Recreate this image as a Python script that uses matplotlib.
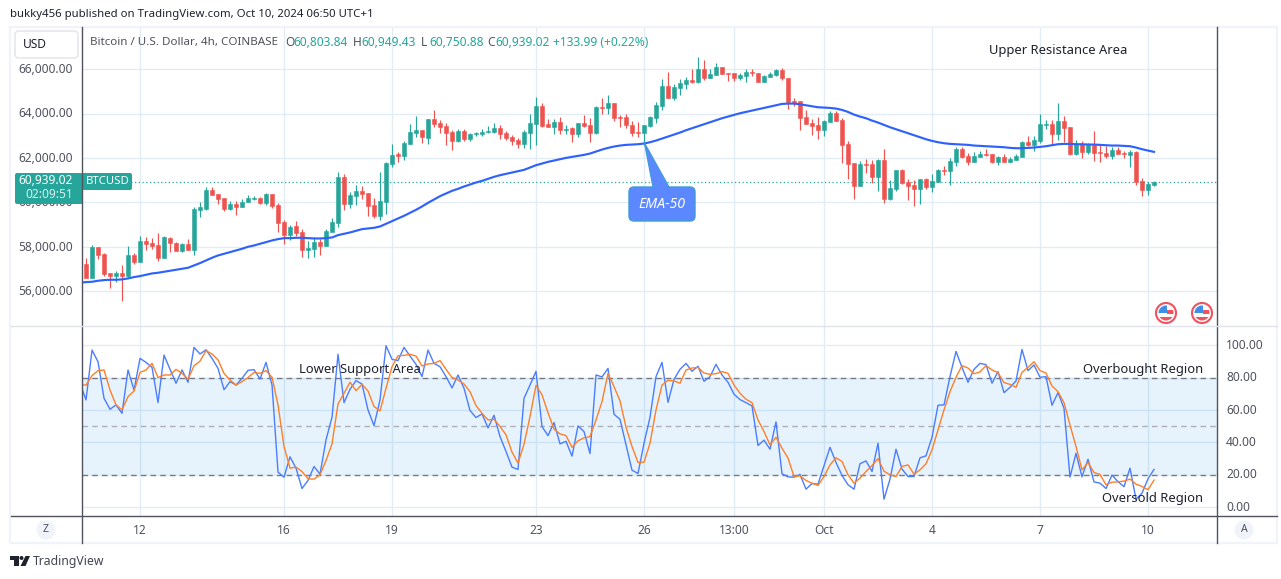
#!/usr/bin/env python3

# BTCUSD 4h chart with EMA-50 and a stochastic RSI pane

import numpy as np
import matplotlib
matplotlib.use("Agg")
import matplotlib.pyplot as plt
from matplotlib.patches import Circle, FancyBboxPatch, Polygon, Rectangle
from matplotlib.transforms import ScaledTranslation

plt.rcParams['font.family'] = ['Noto Sans', 'DejaVu Sans']

opens = [
    57240, 56580, 58005, 57690, 56820, 56700, 56820, 56700, 57630, 57330,
    58275, 58185, 58095, 57510, 58410, 58185, 57825, 58140, 57870, 59670,
    59715, 60570, 60390, 60210, 59715, 59940, 59805, 60015, 60165, 60210,
    59985, 60390, 59895, 59130, 58545, 58950, 58680, 57870, 57915, 58230,
    58050, 58680, 59085, 61155, 59940, 60300, 60525, 60435, 59895, 59400,
    60030, 61740, 62175, 62100, 62640, 63135, 63270, 62910, 63765, 63585,
    63450, 63180, 62775, 63225, 62865, 63075, 63090, 63180, 63180, 63360,
    63135, 62955, 62820, 62640, 63135, 63540, 64350, 63540, 63405, 63630,
    63270, 63360, 63090, 63585, 63495, 63135, 64305, 64260, 64485, 63855,
    63855, 63495, 63180, 63135, 63450, 63810, 64350, 65250, 64710, 65160,
    65340, 65520, 65430, 66015, 65610, 65745, 66105, 65835, 65835, 65610,
    65700, 65865, 65835, 65430, 65655, 65745, 65970, 65610, 64575, 64575,
    63855, 63585, 63495, 63270, 63630, 64035, 63720, 62640, 61785, 60750,
    61740, 61740, 61155, 61920, 60165, 60615, 61470, 60930, 60795, 60615,
    61065, 60705, 60930, 61470, 61425, 61830, 62415, 62100, 61830, 62055,
    62190, 62190, 61830, 62055, 61830, 61920, 62055, 62730, 62595, 62775,
    63495, 63540, 63090, 63675, 63405, 62190, 62640, 62280, 62595, 62280,
    62235, 62100, 62370, 62235, 62145, 62280, 60975, 60570, 60803.84]
highs = [
    57510, 58095, 58005, 57735, 56820, 56910, 57195, 58050, 57735, 58500,
    58455, 58410, 58635, 58500, 58455, 58230, 58185, 58365, 59790, 60030,
    60705, 60705, 60390, 60210, 60075, 60075, 60165, 60345, 60300, 60255,
    60435, 60390, 59985, 59220, 58995, 59175, 58815, 58275, 58455, 58365,
    58815, 59310, 61380, 61290, 60480, 60795, 60750, 60435, 60210, 61380,
    61830, 62640, 62280, 62775, 63540, 63900, 63270, 63765, 64170, 63720,
    63585, 63270, 63315, 63315, 63135, 63180, 63315, 63450, 63585, 63495,
    63225, 63045, 62910, 63270, 63990, 64755, 64485, 63765, 63765, 63855,
    63495, 63405, 63585, 63945, 63810, 64350, 64710, 64845, 64485, 63945,
    63990, 63675, 63630, 63495, 63900, 64530, 65565, 65880, 65340, 65565,
    65655, 66015, 66555, 66420, 66015, 66285, 66105, 65835, 65835, 65835,
    66015, 66015, 65835, 65745, 65880, 66015, 66060, 65610, 64710, 64575,
    64170, 63765, 63855, 63720, 64125, 64125, 63810, 62775, 61785, 61875,
    61965, 61920, 61965, 62415, 61020, 61470, 61515, 61065, 61020, 61065,
    61110, 61290, 61515, 61650, 62010, 62505, 62505, 62235, 62280, 62325,
    62415, 62190, 62100, 62190, 62055, 62190, 62775, 63000, 63000, 63990,
    63720, 63720, 64485, 63900, 63405, 62820, 62775, 62685, 63225, 62595,
    62550, 62505, 62505, 62325, 62370, 62325, 61110, 60930, 60949.43]
lows = [
    56580, 56580, 57465, 56685, 56130, 56400, 55575, 56640, 57240, 57330,
    57870, 57915, 57345, 57510, 57780, 57825, 57780, 57870, 57645, 59355,
    59670, 60345, 59940, 59625, 59670, 59445, 59805, 60015, 60120, 59940,
    59895, 59760, 58680, 58140, 58320, 58500, 57555, 57510, 57555, 57645,
    58050, 58680, 58905, 59670, 59760, 59895, 60165, 59400, 59310, 59220,
    59490, 61605, 61830, 61920, 62640, 62955, 62685, 62640, 63405, 63135,
    62595, 62370, 62730, 62775, 62775, 63000, 63000, 63135, 63135, 62865,
    62820, 62595, 62460, 62460, 62415, 62595, 63405, 63405, 63090, 63090,
    63090, 62730, 62955, 63405, 62730, 63090, 63990, 63990, 63675, 63405,
    63360, 63000, 62955, 62595, 63405, 63585, 64170, 64710, 64620, 64845,
    65115, 65385, 65385, 65520, 65610, 65745, 65790, 65475, 65475, 65520,
    65430, 65700, 65430, 65430, 65655, 65700, 65520, 64215, 64350, 63270,
    63540, 63045, 62865, 63000, 63630, 63675, 61785, 61065, 60165, 60750,
    61335, 60885, 60525, 59985, 60120, 60525, 60840, 60120, 59850, 59940,
    60615, 60480, 60930, 61245, 60795, 61650, 62010, 61695, 61830, 62055,
    62100, 61785, 61695, 61830, 61830, 61920, 62055, 62550, 62325, 62685,
    63315, 62640, 62820, 62730, 62145, 62145, 62010, 62190, 61875, 61830,
    62010, 61965, 62190, 62010, 61605, 60795, 60300, 60345, 60750.88]
closes = [
    56580, 58005, 57645, 56775, 56700, 56820, 56700, 57645, 57330, 58275,
    58140, 58050, 57480, 58455, 58155, 57825, 58140, 57870, 59715, 59805,
    60570, 60345, 60165, 59715, 59940, 59805, 60030, 60210, 60225, 59985,
    60390, 59850, 59085, 58545, 58905, 58635, 57870, 57960, 58230, 58050,
    58725, 59130, 61155, 59940, 60345, 60525, 60390, 59850, 59400, 60075,
    61785, 62145, 62115, 62685, 63180, 63270, 62955, 63765, 63540, 63405,
    63135, 62775, 63225, 62865, 63090, 63135, 63180, 63240, 63360, 63090,
    62910, 62775, 62640, 63180, 63585, 64350, 63450, 63405, 63630, 63270,
    63330, 63090, 63585, 63450, 63135, 64305, 64260, 64485, 63810, 63810,
    63495, 63135, 63135, 63495, 63855, 64395, 65250, 64710, 65205, 65385,
    65520, 65430, 66015, 65610, 65790, 66105, 65790, 65790, 65610, 65745,
    65880, 65835, 65430, 65700, 65790, 65970, 65610, 64530, 64485, 63810,
    63540, 63450, 63270, 63675, 64035, 63675, 62595, 61740, 60750, 61740,
    61695, 61155, 61920, 60165, 60660, 61470, 60885, 60750, 60615, 61065,
    60705, 60975, 61470, 61425, 61875, 62415, 62055, 61830, 62100, 62190,
    62145, 61830, 62055, 61830, 61965, 62100, 62730, 62595, 62820, 63540,
    63540, 63090, 63675, 63360, 62190, 62640, 62280, 62595, 62235, 62235,
    62100, 62370, 62190, 62190, 62280, 60930, 60570, 60840, 60939.02]

# the lines below start one bar before the first candle, at the pane's left edge
ema50 = [
    56385, 56415, 56430, 56475, 56505, 56520, 56520, 56535, 56580, 56640,
    56685, 56745, 56805, 56835, 56880, 56925, 56970, 57015, 57060, 57165,
    57270, 57390, 57510, 57615, 57690, 57765, 57840, 57915, 58005, 58065,
    58140, 58215, 58290, 58350, 58395, 58395, 58410, 58410, 58395, 58380,
    58380, 58395, 58425, 58530, 58590, 58650, 58725, 58800, 58830, 58860,
    58920, 59040, 59160, 59280, 59400, 59535, 59670, 59820, 59985, 60135,
    60285, 60405, 60525, 60615, 60720, 60810, 60900, 60975, 61065, 61155,
    61230, 61290, 61350, 61410, 61470, 61575, 61680, 61755, 61830, 61890,
    61950, 62010, 62055, 62100, 62145, 62205, 62295, 62385, 62460, 62520,
    62565, 62595, 62610, 62625, 62655, 62715, 62790, 62880, 62970, 63060,
    63150, 63255, 63345, 63435, 63525, 63615, 63705, 63795, 63870, 63945,
    64020, 64080, 64140, 64200, 64260, 64320, 64380, 64440, 64455, 64455,
    64425, 64380, 64335, 64290, 64275, 64260, 64230, 64170, 64080, 63960,
    63870, 63795, 63690, 63600, 63495, 63390, 63300, 63210, 63120, 63030,
    62940, 62850, 62775, 62715, 62670, 62640, 62625, 62610, 62595, 62565,
    62550, 62535, 62520, 62505, 62490, 62460, 62445, 62445, 62460, 62475,
    62505, 62535, 62580, 62625, 62640, 62640, 62625, 62625, 62610, 62610,
    62595, 62580, 62565, 62565, 62550, 62535, 62475, 62400, 62340, 62280]
stoch_k = [
    76.6, 66.3, 97.1, 89.9, 67.3, 60.5, 63.2, 58.0, 84.8, 72.4,
    92.0, 89.5, 86.4, 64.6, 94.0, 85.2, 76.6, 84.8, 77.2, 98.8,
    94.7, 97.3, 92.0, 85.8, 72.6, 77.6, 75.5, 79.6, 84.6, 85.0,
    79.2, 89.5, 75.5, 21.6, 18.5, 31.1, 24.1, 11.5, 16.5, 25.1,
    20.4, 41.6, 55.6, 94.5, 64.6, 72.9, 78.2, 76.1, 60.1, 50.4,
    66.3, 99.8, 91.4, 90.6, 98.8, 93.4, 88.3, 80.7, 97.1, 88.9,
    86.8, 80.7, 73.7, 81.7, 73.5, 59.7, 55.4, 57.6, 49.0, 56.8,
    43.6, 34.4, 24.7, 23.3, 67.3, 75.5, 84.0, 49.8, 44.2, 52.3,
    39.1, 40.7, 31.5, 50.2, 46.7, 33.1, 81.7, 80.5, 85.8, 57.4,
    54.3, 38.5, 22.8, 20.8, 39.5, 55.6, 80.7, 89.5, 64.8, 79.0,
    85.2, 88.9, 84.0, 87.1, 77.8, 80.7, 88.3, 81.7, 77.2, 69.8,
    66.5, 64.6, 62.6, 38.1, 41.4, 35.8, 52.7, 20.6, 18.7, 18.5,
    20.2, 11.1, 14.6, 14.2, 25.7, 37.0, 27.6, 19.6, 13.8, 11.1,
    26.8, 28.6, 22.0, 39.5, 4.9, 17.3, 35.8, 23.5, 18.9, 18.9,
    30.5, 31.7, 43.2, 63.0, 63.2, 80.7, 96.3, 86.4, 77.2, 85.2,
    88.9, 88.1, 76.6, 83.8, 70.8, 74.1, 78.0, 97.5, 84.4, 87.9,
    80.3, 80.7, 63.0, 70.8, 61.1, 18.5, 33.3, 18.7, 29.6, 15.6,
    14.8, 11.5, 19.8, 15.8, 12.6, 24.1, 4.9, 8.6, 17.5, 23.3]
stoch_d = [
    75.5, 75.5, 81.3, 84.4, 84.8, 72.4, 63.2, 60.1, 68.3, 71.8,
    83.3, 84.8, 88.9, 80.1, 81.7, 81.7, 85.2, 82.7, 79.2, 87.3,
    90.3, 96.7, 94.7, 91.0, 82.7, 78.6, 75.5, 77.6, 80.1, 83.3,
    82.7, 84.4, 80.3, 63.2, 37.5, 24.1, 24.7, 22.0, 17.5, 17.3,
    20.0, 28.8, 39.1, 63.8, 70.4, 77.2, 72.0, 75.9, 71.8, 62.2,
    59.5, 73.5, 86.8, 93.6, 93.8, 94.5, 93.4, 87.3, 88.5, 88.9,
    90.6, 85.2, 80.1, 78.6, 76.1, 71.4, 62.8, 58.0, 53.9, 54.3,
    49.8, 44.7, 34.0, 27.2, 38.9, 56.0, 75.3, 69.4, 58.4, 48.2,
    45.3, 44.2, 37.0, 41.0, 42.8, 43.6, 53.9, 65.2, 82.7, 74.5,
    65.7, 49.4, 37.5, 27.6, 27.8, 39.5, 60.1, 75.5, 78.4, 78.0,
    76.6, 84.8, 86.0, 86.4, 82.9, 82.1, 82.5, 83.8, 82.7, 75.5,
    70.4, 66.7, 64.6, 53.9, 46.7, 38.5, 43.2, 36.4, 30.3, 18.9,
    19.3, 16.5, 14.8, 13.4, 18.9, 26.1, 30.5, 28.2, 20.0, 14.8,
    17.9, 22.0, 25.7, 30.0, 22.2, 20.0, 18.9, 25.1, 26.1, 20.4,
    23.0, 26.8, 35.4, 47.7, 60.1, 71.4, 80.3, 87.5, 86.0, 82.5,
    83.6, 87.5, 84.8, 83.1, 77.0, 75.9, 74.1, 83.3, 86.4, 89.9,
    84.4, 82.9, 74.9, 71.4, 64.6, 50.8, 37.5, 23.0, 27.6, 21.4,
    20.2, 13.8, 15.4, 15.6, 16.1, 17.3, 14.2, 12.8, 10.7, 16.7]

date_ticks = [9, 33, 51, 75, 93, 108, 123, 141, 159, 177]
date_labels = ['12', '16', '19', '23', '26', '13:00', 'Oct', '4', '7', '10']
price_ticks = [56000, 58000, 60000, 62000, 64000, 66000]
rsi_ticks = [0, 20, 40, 60, 80, 100]

UP = '#26a69a'
DOWN = '#ef5350'
GRID = '#e1ecf4'
AXIS = '#50535e'
LABEL = '#50535e'
INK = '#1e222d'

W, H = 1281, 579
fig = plt.figure(figsize=(W / 100, H / 100), dpi=100, facecolor='white')


def pane(left, top, right, bottom):
    return fig.add_axes([left / W, 1 - bottom / H, (right - left) / W, (bottom - top) / H])


ax = pane(82, 27, 1217, 326)
ax_rsi = pane(82, 326, 1217, 516)

bars = np.arange(len(closes))
line_x = np.arange(-1, len(closes))
for a in (ax, ax_rsi):
    a.set_xlim(-0.67, 188.5)
    a.set_xticks(date_ticks)
    a.grid(True, color=GRID, linewidth=1.0)
    a.set_axisbelow(True)
    a.tick_params(length=0, colors=LABEL, labelsize=8.6)
    for side in a.spines:
        a.spines[side].set_visible(False)

# painel de preco
ax.set_ylim(54437, 67905)
ax.set_yticks(price_ticks)
ax.set_yticklabels([f'{p:,.2f}' for p in price_ticks])
ax.tick_params(axis='y', pad=6.5)
ax.tick_params(axis='x', labelbottom=False)

colors = [UP if c >= o else DOWN for o, c in zip(opens, closes)]
ax.vlines(bars, lows, highs, colors=colors, linewidth=0.85, zorder=3)
ax.bar(bars, np.abs(np.array(closes) - np.array(opens)), width=0.8,
       bottom=np.minimum(opens, closes), color=colors, linewidth=0.4,
       edgecolor=colors, zorder=3)
ax.axhline(closes[-1], color=UP, linewidth=0.9, linestyle=(0, (1, 2)), zorder=2)
ax.plot(line_x, ema50, color='#2e62ff', linewidth=1.55, zorder=4)

# painel do oscilador
ax_rsi.set_ylim(-5.5, 112)
ax_rsi.yaxis.tick_right()
ax_rsi.set_yticks(rsi_ticks)
ax_rsi.set_yticklabels([f'{v:.2f}' for v in rsi_ticks])
ax_rsi.tick_params(axis='y', pad=6.5)
ax_rsi.tick_params(axis='x', pad=6)
ax_rsi.set_xticklabels(date_labels)
ax_rsi.axhspan(20, 80, color='#2196f3', alpha=0.11, linewidth=0, zorder=1)
ax_rsi.axhline(80, color='#787b86', linewidth=1.0, linestyle=(0, (4, 3)), zorder=1.5)
ax_rsi.axhline(50, color='#aeb0b8', linewidth=1.0, linestyle=(0, (4, 3)), zorder=1.5)
ax_rsi.axhline(20, color='#787b86', linewidth=1.0, linestyle=(0, (4, 3)), zorder=1.5)
ax_rsi.plot(line_x, stoch_k, color='#4a7dff', linewidth=1.0, zorder=3)
ax_rsi.plot(line_x, stoch_d, color='#ff7f27', linewidth=1.0, zorder=4)

# rotulos de preco um pouco acima da linha de grade
nudge = ScaledTranslation(0, 1.3 / 100, fig.dpi_scale_trans)
for a in (ax, ax_rsi):
    for label in a.get_yticklabels():
        label.set_transform(label.get_transform() + nudge)

# camada em pixels para moldura, rotulos e desenhos
top = fig.add_axes([0, 0, 1, 1], zorder=5)
top.set_xlim(0, W)
top.set_ylim(H, 0)
top.axis('off')
top.patch.set_alpha(0)

top.add_patch(Rectangle((10, 27), 1267, 516, fill=False, edgecolor='#f0f3fa', linewidth=1.6))
top.plot([82, 82], [27, 543], color=AXIS, linewidth=1.0)
top.plot([1217, 1217], [27, 543], color=AXIS, linewidth=1.0)
top.plot([11, 1277], [516, 516], color=AXIS, linewidth=1.0)
top.plot([11, 1277], [326, 326], color='#e0e3eb', linewidth=1.0)

top.text(10, 15, 'bukky456 published on TradingView.com, Oct 10, 2024 06:50 UTC+1',
         fontsize=8.2, color=INK, va='center')

top.add_patch(FancyBboxPatch((17, 33), 59, 23, boxstyle='round,pad=2,rounding_size=4',
                             facecolor='white', edgecolor='#e0e3eb', linewidth=1.0))
top.text(23, 44.5, 'USD', fontsize=8.6, color=INK, va='center')

top.text(90, 42, 'Bitcoin / U.S. Dollar, 4h, COINBASE', fontsize=8.35, color=LABEL, va='center')
legend_parts = [(285, 'O', LABEL), (293, '60,803.84', UP), (353, 'H', LABEL), (361, '60,949.43', UP),
                (421, 'L', LABEL), (429, '60,750.88', UP), (487, 'C', LABEL), (495, '60,939.02', UP),
                (553, '+133.99 (+0.22%)', UP)]
for x, s, c in legend_parts:
    top.text(x, 42, s, fontsize=8.6, color=c, va='center')

# etiqueta do ultimo preco
top.add_patch(FancyBboxPatch((17, 175), 64, 27, boxstyle='round,pad=2,rounding_size=2',
                             facecolor=UP, edgecolor='none'))
top.add_patch(FancyBboxPatch((84, 175), 46, 13, boxstyle='round,pad=2,rounding_size=2',
                             facecolor=UP, edgecolor='none'))
top.text(73, 180.5, '60,939.02', fontsize=8.6, color='white', ha='right', va='center', fontweight='medium')
top.text(73, 194.5, '02:09:51', fontsize=8.6, color='#d5f0ec', ha='right', va='center')
top.text(86, 181.5, 'BTCUSD', fontsize=8.2, color='white', va='center')

# balao EMA-50
balloon = '#5b88ff'
top.add_patch(FancyBboxPatch((633, 191), 58, 26, boxstyle='round,pad=4,rounding_size=5',
                             facecolor=balloon, edgecolor='#3f9bd6', linewidth=1.0))
top.add_patch(Polygon([(644.5, 143), (653, 187.5), (669, 187.5)], closed=True, facecolor=balloon,
                      edgecolor='none'))
top.plot([653, 644.5, 669], [187, 143, 187], color='#3f9bd6', linewidth=0.9)
top.text(662, 204, 'EMA-50', fontsize=10.2, color='white', style='italic', ha='center', va='center')

notes = [(1058, 50.5, 'Upper Resistance Area'), (360, 369, 'Lower Support Area'),
         (1143, 369, 'Overbought Region'), (1152, 498.5, 'Oversold Region')]
for x, y, s in notes:
    top.text(x, y, s, fontsize=9.35, color=INK, ha='center', va='center')

# bandeiras dos eventos
for cx in (1166, 1202):
    top.add_patch(Circle((cx, 313), 10, facecolor='white', edgecolor='#f0525f', linewidth=1.5))
    inner = Circle((cx, 313), 7.5, transform=top.transData)
    shapes = [Rectangle((cx - 8, 305), 9, 8, facecolor='#3f8ee8', edgecolor='none'),
              Rectangle((cx + 1, 310), 7, 3.5, facecolor='#f0525f', edgecolor='none'),
              Rectangle((cx - 8, 316.5), 16, 4, facecolor='#f0525f', edgecolor='none')]
    for shape in shapes:
        top.add_patch(shape)
        shape.set_clip_path(inner)

# botoes Z e A
for cx, s in ((46, 'Z'), (1244, 'A')):
    top.add_patch(Circle((cx, 530), 9.5, facecolor='#f0f3fa', edgecolor='none'))
    top.text(cx, 530, s, fontsize=7.6, color=LABEL, ha='center', va='center')

# logo no rodape
top.add_patch(Polygon([(10, 556), (18.5, 556), (18.5, 566), (14, 566), (14, 560), (10, 560)], facecolor=INK))
top.add_patch(Circle((21.5, 558), 2, facecolor=INK, edgecolor='none'))
top.add_patch(Polygon([(25.5, 556), (30, 556), (25.5, 566), (20.5, 566)], facecolor=INK))
top.text(33, 561, 'TradingView', fontsize=8.8, color='#434651', va='center')

fig.savefig('out.png', dpi=100)
